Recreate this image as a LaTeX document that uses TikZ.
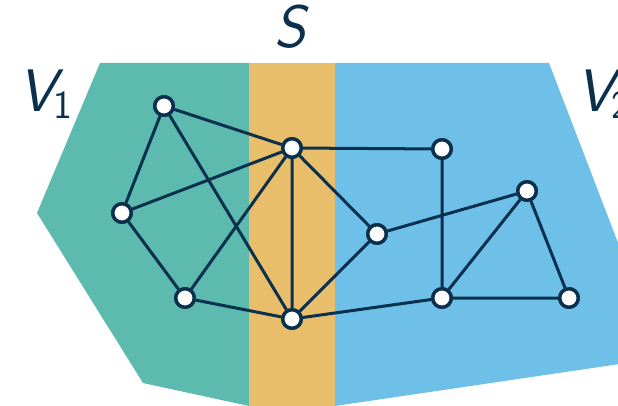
\documentclass[tikz,border=0pt]{standalone}
\usepackage{fontspec}
\definecolor{partone}{RGB}{92,186,174}
\definecolor{separator}{RGB}{233,190,106}
\definecolor{parttwo}{RGB}{110,192,233}
\definecolor{ink}{RGB}{10,48,78}
\newcommand{\setname}[2]{\itshape #1\kern-2pt\raisebox{-7pt}{\upshape\fontsize{40}{40}\selectfont #2}}
\tikzset{
  vertex/.style={circle, draw=ink, fill=white, line width=3.4pt, minimum size=18.5pt, inner sep=0pt},
  edge/.style={draw=ink, line width=3pt},
  setlabel/.style={text=ink, inner sep=0pt, font=\sffamily\fontsize{60}{60}\selectfont},
}
\begin{document}
\begin{tikzpicture}[x=1pt, y=-1pt]
\useasboundingbox (0,0) rectangle (618,406);
\clip (0,0) rectangle (618,406);
% vertex sets
\fill[partone] (100,63) -- (249,63) -- (249,406) -- (143,383) -- (37,213) -- cycle;
\fill[separator] (249,63) rectangle (335,406);
\fill[parttwo] (335,63) -- (549,63) -- (640,300) -- (640,361) -- (335,406) -- cycle;
% set labels
\node[setlabel, anchor=base west] (v1) at (18,112) {\setname{V}{1}};
\node[setlabel, anchor=base] (s) at (290,48) {\itshape S};
\node[setlabel, anchor=base west] (v2) at (576,112) {\setname{V}{2}};
% vertices
\node[vertex] (a) at (164,106) {};
\node[vertex] (b) at (292,148) {};
\node[vertex] (c) at (122,213) {};
\node[vertex] (d) at (185,298) {};
\node[vertex] (e) at (292,319) {};
\node[vertex] (f) at (442,149) {};
\node[vertex] (g) at (377,234) {};
\node[vertex] (h) at (527,191) {};
\node[vertex] (i) at (442,298) {};
\node[vertex] (j) at (569,298) {};
% edges
\path[edge] (a) -- (b) (a) -- (c) (a) -- (e) (c) -- (b) (c) -- (d)
  (d) -- (b) (d) -- (e) (b) -- (e) (b) -- (f) (b) -- (g) (e) -- (g)
  (e) -- (i) (f) -- (i) (g) -- (h) (h) -- (i) (h) -- (j) (i) -- (j);
% redraw vertices on top of the edges
\foreach \n in {a,b,c,d,e,f,g,h,i,j}{
  \node[vertex] at (\n) {};
}
\end{tikzpicture}
\end{document}
